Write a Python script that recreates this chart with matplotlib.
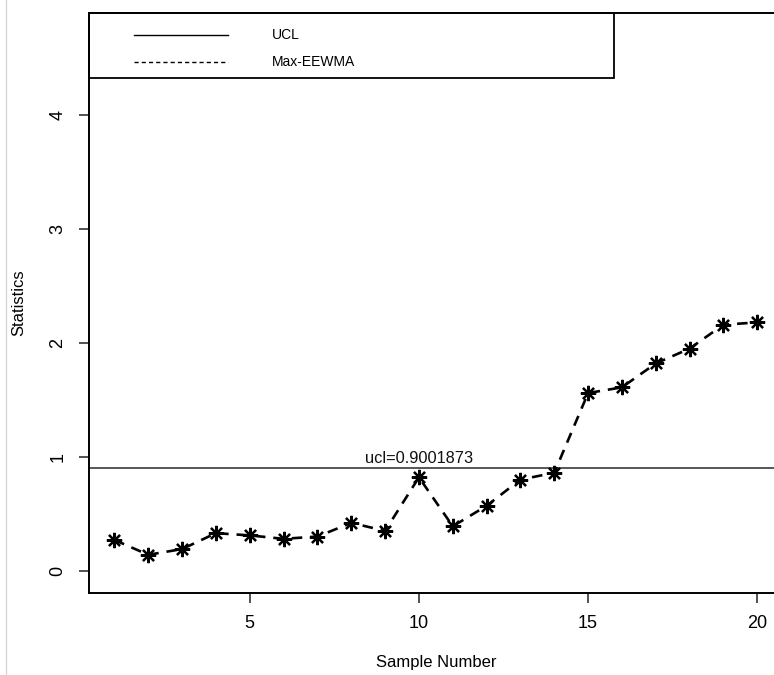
import matplotlib
matplotlib.use("Agg")
import matplotlib.pyplot as plt
from matplotlib.lines import Line2D
from matplotlib.patches import Rectangle

plt.rcParams['font.family'] = ['Liberation Sans', 'DejaVu Sans']

sample = list(range(1, 21))
stat = [0.27, 0.14, 0.19, 0.33, 0.31, 0.28, 0.30, 0.42, 0.35, 0.82,
        0.39, 0.57, 0.80, 0.86, 1.56, 1.61, 1.82, 1.95, 2.16, 2.18]
ucl = 0.9001873
xticks = [5, 10, 15, 20]
yticks = [0, 1, 2, 3, 4]
legend_labels = ["UCL", "Max-EEWMA"]

W, H = 774, 675
fig = plt.figure(figsize=(W / 100, H / 100), dpi=100)
left, right, top, bottom = 88.7, 783.0, 13.3, 592.7
ax = fig.add_axes([left / W, 1 - bottom / H, (right - left) / W, (bottom - top) / H])

ax.axhline(ucl, color='#3a3a3a', lw=1.2, zorder=2)
ax.plot(sample, stat, color='black', lw=1.9, dashes=(4, 3),
        marker=(8, 2, 0), markersize=11, markeredgewidth=1.6, zorder=3)
ax.text(10, ucl + 0.02, "ucl=%s" % ucl, ha='center', va='bottom', fontsize=11.8, color='#111111')

ax.set_xlim(0.24, 20.76)
ax.set_ylim(-0.193, 4.894)
ax.set_xticks(xticks)
ax.set_yticks(yticks)
ax.set_yticklabels([str(v) for v in yticks], rotation=90, va='center')
ax.tick_params(axis='both', length=7, width=1.1, labelsize=13, pad=9, color='#222222')
for s in ax.spines.values():
    s.set_linewidth(1.4)

ax.set_xlabel("Sample Number", fontsize=12)
ax.set_ylabel("Statistics", fontsize=12)
ax.xaxis.set_label_coords(0.5, (bottom - 663) / (bottom - top))
ax.xaxis.label.set_va('center')
ax.yaxis.set_label_coords((18.5 - left) / (right - left), 0.5)
ax.yaxis.label.set_va('center')

# legend box
lx1 = (614 - left) / (right - left)
ly0 = (bottom - 78.3) / (bottom - top)
ax.add_patch(Rectangle((0, ly0), lx1, 1 - ly0, transform=ax.transAxes, fill=False,
                       edgecolor='black', lw=1.3, zorder=5, clip_on=False))
hx0 = (134 - left) / (right - left)
hx1 = (228 - left) / (right - left)
tx = (272 - left) / (right - left)
ys = [(bottom - 34.7) / (bottom - top), (bottom - 61.7) / (bottom - top)]
styles = ['-', '--']
for lab, yy, st in zip(legend_labels, ys, styles):
    ln = Line2D([hx0, hx1], [yy, yy], transform=ax.transAxes, color='black', lw=1.0,
                linestyle=st, zorder=6)
    if st == '--':
        ln.set_dashes((3, 2.2))
    ax.add_line(ln)
    ax.text(tx, yy, lab, transform=ax.transAxes, ha='left', va='center', fontsize=10)

fig.add_artist(Line2D([6 / W, 6 / W], [0, 1], color='#d8d8d8', lw=1.0))

fig.savefig("out.png", dpi=100)
